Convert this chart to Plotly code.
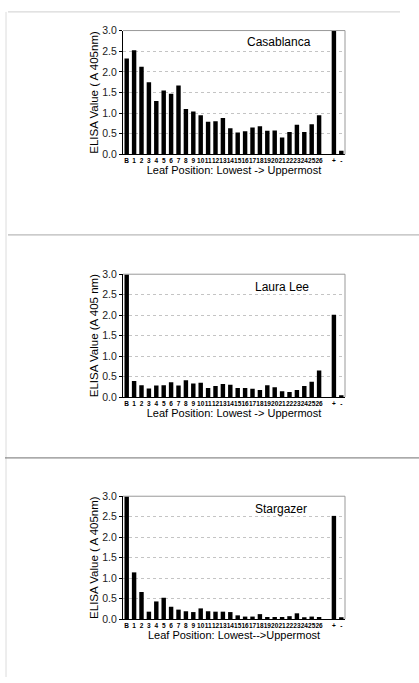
import plotly.graph_objects as go

categories = ["B"] + [str(i) for i in range(1, 27)] + [" ", "+", "-"]

casablanca = [2.32, 2.52, 2.12, 1.75, 1.29, 1.55, 1.47, 1.67, 1.10, 1.04, 0.95, 0.79, 0.80, 0.88,
              0.63, 0.53, 0.56, 0.65, 0.68, 0.57, 0.58, 0.41, 0.54, 0.72, 0.54, 0.73, 0.95,
              None, 3.0, 0.09]
laura_lee = [3.0, 0.39, 0.29, 0.21, 0.28, 0.29, 0.36, 0.28, 0.41, 0.33, 0.35, 0.22, 0.27, 0.32,
             0.30, 0.22, 0.22, 0.20, 0.17, 0.29, 0.24, 0.14, 0.12, 0.17, 0.27, 0.37, 0.65,
             None, 2.01, 0.03]
stargazer = [3.0, 1.14, 0.66, 0.18, 0.43, 0.52, 0.30, 0.23, 0.19, 0.17, 0.26, 0.19, 0.18, 0.18,
             0.17, 0.09, 0.06, 0.06, 0.12, 0.05, 0.05, 0.05, 0.07, 0.14, 0.02, 0.06, 0.05,
             None, 2.52, 0.02]

names = ["Casablanca", "Laura Lee", "Stargazer"]
series = [casablanca, laura_lee, stargazer]
ytitles = ["ELISA Value ( A 405nm)", "ELISA Value (A 405 nm)", "ELISA Value ( A 405nm)"]
xtitles = ["Leaf Position: Lowest -> Uppermost", "Leaf Position: Lowest -> Uppermost",
           "Leaf Position: Lowest-->Uppermost"]
yticks = [0.0, 0.5, 1.0, 1.5, 2.0, 2.5, 3.0]
yticktext = ["0.0", "0.5", "1.0", "1.5", "2.0", "2.5", "3.0"]

W, H = 419, 683
# pixel boxes of each plot area (top, bottom)
boxes = [(25, 151), (273, 398), (499, 624)]
xl, xr = 123, 345
label_pos = [(279, 37), (282, 286), (281, 512)]

FONT = "Liberation Sans, Arial, sans-serif"
fig = go.Figure()
shapes = []
annotations = []
for i, (nm, vals) in enumerate(zip(names, series)):
    k = "" if i == 0 else str(i + 1)
    top, bot = boxes[i]
    fig.add_trace(go.Bar(x=categories, y=vals, marker=dict(color="black", line=dict(width=0)),
                         width=0.6, xaxis="x" + k, yaxis="y" + k, showlegend=False))
    fig.layout["xaxis" + k] = dict(
        domain=[xl / W, xr / W], anchor="y" + k, type="category",
        categoryorder="array", categoryarray=categories,
        tickmode="array", tickvals=categories, ticktext=categories,
        tickfont=dict(size=6.5, color="black", family=FONT, weight="bold"),
        showline=True, linecolor="black", linewidth=1, ticks="", showgrid=False,
        tickangle=0,
        title=dict(text=xtitles[i], font=dict(size=11, color="black", family=FONT), standoff=1),
    )
    fig.layout["yaxis" + k] = dict(
        domain=[1 - bot / H, 1 - top / H], anchor="x" + k, range=[0, 3.0],
        tickmode="array", tickvals=yticks, ticktext=yticktext,
        tickfont=dict(size=10.5, color="#222", family=FONT),
        showline=True, linecolor="black", linewidth=1, ticks="outside", ticklen=3,
        tickcolor="black",
        showgrid=True, gridcolor="#c4c4c4", griddash="dot", gridwidth=1,
        zeroline=False,
        title=dict(text=ytitles[i], font=dict(size=11.5, color="black", family=FONT), standoff=1),
    )
    # top and right frame of plot area (light gray)
    shapes.append(dict(type="line", xref="x" + k + " domain", yref="y" + k + " domain",
                       x0=0, x1=1, y0=1, y1=1, line=dict(color="#999", width=1)))
    shapes.append(dict(type="line", xref="x" + k + " domain", yref="y" + k + " domain",
                       x0=1, x1=1, y0=0, y1=1, line=dict(color="#999", width=1)))
    lx, ly = label_pos[i]
    annotations.append(dict(text=nm, x=lx / W, y=1 - ly / H, xref="paper", yref="paper",
                            showarrow=False, xanchor="center", yanchor="middle",
                            font=dict(size=12, color="black", family=FONT)))

# page decorations (scanned page borders)
shapes += [
    dict(type="line", xref="paper", yref="paper", x0=8 / W, x1=400 / W, y0=1 - 6 / H, y1=1 - 6 / H,
         line=dict(color="#cfcfcf", width=1)),
    dict(type="line", xref="paper", yref="paper", x0=6 / W, x1=6 / W, y0=1 - 6 / H, y1=0,
         line=dict(color="#dcdcdc", width=1)),
    dict(type="line", xref="paper", yref="paper", x0=8 / W, x1=1, y0=1 - 233 / H, y1=1 - 233 / H,
         line=dict(color="#a8a8a8", width=1)),
    dict(type="line", xref="paper", yref="paper", x0=5 / W, x1=1, y0=1 - 460 / H, y1=1 - 460 / H,
         line=dict(color="#707070", width=1)),
]

fig.update_layout(
    width=W, height=H, margin=dict(l=0, r=0, t=0, b=0),
    paper_bgcolor="white", plot_bgcolor="white",
    bargap=0.45, shapes=shapes, annotations=annotations,
    font=dict(family=FONT, color="black"),
)
fig.write_html("out.html")
